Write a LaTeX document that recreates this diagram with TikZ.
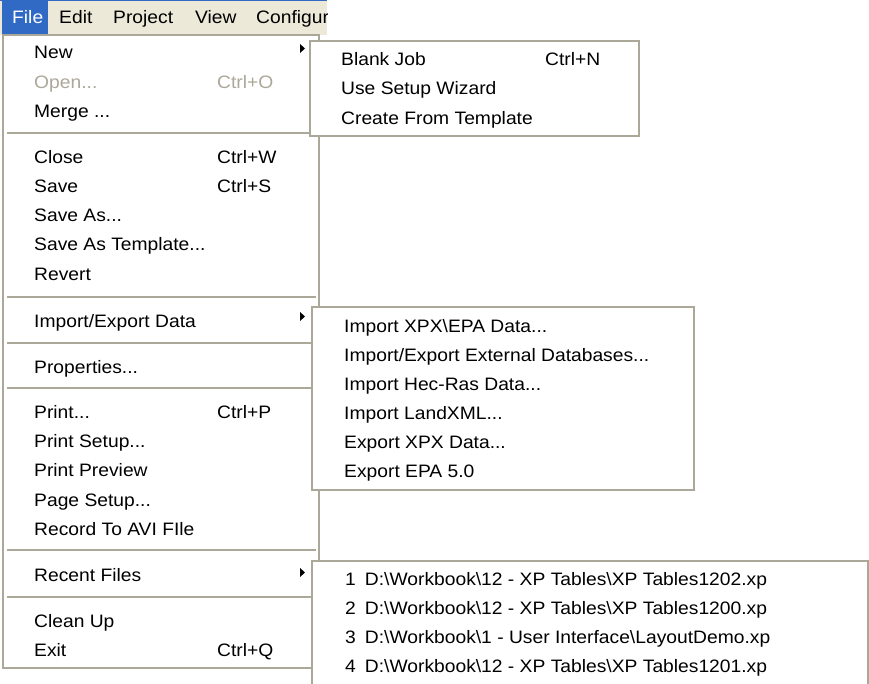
\documentclass[tikz,border=0pt]{standalone}
\usepackage{fontspec}
\setmainfont{Liberation Sans}[FakeStretch=1.07]
\definecolor{menubg}{HTML}{ECE9D8}
\definecolor{menuborder}{HTML}{ACA899}
\definecolor{selblue}{HTML}{316AC5}
\definecolor{disabled}{HTML}{ACA899}
\begin{document}
\begin{tikzpicture}[x=1pt,y=-1pt,
  item/.style={anchor=base west,inner sep=0pt,font=\fontsize{18}{21}\selectfont},
  dis/.style={item,text=disabled},
  bartext/.style={item},
  menubox/.style={draw=menuborder,line width=1.5pt,fill=white},
  sep/.style={draw=menuborder,line width=2pt},
  subarrow/.style={fill=black}]
\useasboundingbox (0,0) rectangle (869,684);
\fill[white] (0,0) rectangle (869,684);
% menu bar
\fill[menubg] (0,0) rectangle (327,35);
\draw[selblue,line width=1pt] (0,0.5) -- (327,0.5);
\fill[selblue] (2,1) rectangle (48,34);
\node[bartext,text=white] (mfile) at (12,24) {File};
\node[bartext] (medit) at (59,24) {Edit};
\node[bartext] (mproj) at (113,24) {Project};
\node[bartext] (mview) at (195,24) {View};
\begin{scope}
\clip (250,0) rectangle (327,35);
\node[bartext] (mconf) at (256,24) {Configur};
\end{scope}
% main menu
\draw[menubox] (3,35) rectangle (319,668);
\node[item] (new) at (34,59) {New};
\node[dis] (open) at (34,89) {Open...};
\node[dis] (openk) at (217,89) {Ctrl+O};
\node[item] (merge) at (34,118) {Merge ...};
\draw[sep] (7,133) -- (316,133);
\node[item] (close) at (34,164) {Close};
\node[item] (closek) at (217,164) {Ctrl+W};
\node[item] (save) at (34,193) {Save};
\node[item] (savek) at (217,193) {Ctrl+S};
\node[item] (saveas) at (34,222) {Save As...};
\node[item] (saveast) at (34,251) {Save As Template...};
\node[item] (revert) at (34,280) {Revert};
\draw[sep] (7,297) -- (316,297);
\node[item] (impexp) at (34,327) {Import/Export Data};
\draw[sep] (7,343) -- (316,343);
\node[item] (props) at (34,373) {Properties...};
\draw[sep] (7,388) -- (316,388);
\node[item] (print) at (34,418) {Print...};
\node[item] (printk) at (217,418) {Ctrl+P};
\node[item] (psetup) at (34,447) {Print Setup...};
\node[item] (pprev) at (34,476) {Print Preview};
\node[item] (pgsetup) at (34,506) {Page Setup...};
\node[item] (avi) at (34,535) {Record To AVI FIle};
\draw[sep] (7,550) -- (316,550);
\node[item] (recent) at (34,581) {Recent Files};
\draw[sep] (7,597) -- (316,597);
\node[item] (clean) at (34,627) {Clean Up};
\node[item] (exit) at (34,656) {Exit};
\node[item] (exitk) at (217,656) {Ctrl+Q};
% submenu arrows
\fill[subarrow] (300,44) -- (305,48.5) -- (300,53) -- cycle;
\fill[subarrow] (300,312) -- (305,316.5) -- (300,321) -- cycle;
\fill[subarrow] (300,568) -- (305,572.5) -- (300,577) -- cycle;
% New submenu
\draw[menubox] (310,41) rectangle (639,136);
\node[item] (blank) at (341,66) {Blank Job};
\node[item] (blankk) at (545,66) {Ctrl+N};
\node[item] (wizard) at (341,95) {Use Setup Wizard};
\node[item] (tmpl) at (341,125) {Create From Template};
% Import submenu
\draw[menubox] (312,307) rectangle (694,490);
\node[item] (i1) at (344,332) {Import XPX\textbackslash EPA Data...};
\node[item] (i2) at (344,361) {Import/Export External Databases...};
\node[item] (i3) at (344,390) {Import Hec-Ras Data...};
\node[item] (i4) at (344,419) {Import LandXML...};
\node[item] (i5) at (344,448) {Export XPX Data...};
\node[item] (i6) at (344,477) {Export EPA 5.0};
% Recent files submenu
\fill[white] (312,561) rectangle (868,684);
\draw[menuborder,line width=1.5pt] (312,690) -- (312,561) -- (868,561) -- (868,690);
\node[item] (r1) at (345,585) {1\enspace D:\textbackslash Workbook\textbackslash 12 - XP Tables\textbackslash XP Tables1202.xp};
\node[item] (r2) at (345,614) {2\enspace D:\textbackslash Workbook\textbackslash 12 - XP Tables\textbackslash XP Tables1200.xp};
\node[item] (r3) at (345,643) {3\enspace D:\textbackslash Workbook\textbackslash 1 - User Interface\textbackslash LayoutDemo.xp};
\node[item] (r4) at (345,672) {4\enspace D:\textbackslash Workbook\textbackslash 12 - XP Tables\textbackslash XP Tables1201.xp};
\end{tikzpicture}
\end{document}
